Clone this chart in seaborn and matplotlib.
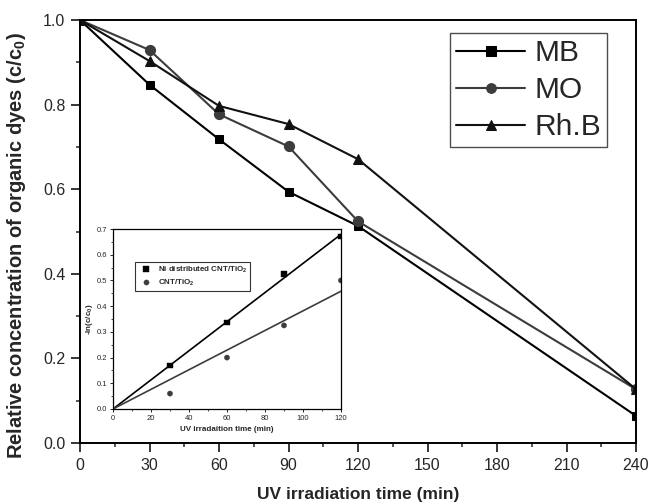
import numpy as np
import pandas as pd
import matplotlib.pyplot as plt
import seaborn as sns

# main chart data
time = [0, 30, 60, 90, 120, 240]
mb = [1.0, 0.847, 0.718, 0.594, 0.513, 0.064]
mo = [1.0, 0.929, 0.777, 0.701, 0.524, 0.127]
rhb = [1.0, 0.903, 0.797, 0.754, 0.671, 0.127]

# inset data
inset_time = [30, 60, 90, 120]
ni_cnt = [0.17, 0.335, 0.525, 0.67]
cnt = [0.06, 0.2, 0.325, 0.5]

sns.set_style("ticks")
plt.rcParams['font.family'] = ['Liberation Sans', 'DejaVu Sans']
plt.rcParams['mathtext.fontset'] = 'custom'
plt.rcParams['mathtext.rm'] = 'Liberation Sans'
plt.rcParams['mathtext.bf'] = 'Liberation Sans:bold'

df = pd.DataFrame({'time': time * 3,
                   'value': mb + mo + rhb,
                   'dye': ['MB'] * 6 + ['MO'] * 6 + ['Rh.B'] * 6})

fig = plt.figure(figsize=(6.5, 5.04), dpi=100)
ax = fig.add_axes([0.1231, 0.121, 0.8554, 0.8393])

sns.lineplot(data=df, x='time', y='value', hue='dye', style='dye',
             palette={'MB': '#000000', 'MO': '#3c3c3c', 'Rh.B': '#111111'},
             markers={'MB': 's', 'MO': 'o', 'Rh.B': '^'},
             dashes=False, markersize=7, linewidth=1.5, ax=ax)
sizes = {'s': 6.3, 'o': 7.3, '^': 7.8}
for line in ax.lines:
    line.set_markeredgecolor(line.get_color())
    m = line.get_marker()
    if m in sizes:
        line.set_markersize(sizes[m])

ax.set_xlim(0, 240)
ax.set_ylim(0, 1.0)
ax.set_xticks(np.arange(0, 241, 30))
ax.set_xticks(np.arange(0, 241, 15), minor=True)
ax.set_yticks(np.arange(0, 1.01, 0.2))
ax.set_yticks(np.arange(0, 1.01, 0.1), minor=True)
ax.yaxis.set_major_formatter(plt.FormatStrFormatter('%.1f'))
ax.tick_params(which='major', direction='out', length=6.5, width=1.3, labelsize=11.5, pad=4)
ax.tick_params(which='minor', direction='out', length=3.2, width=1.1)
for s in ax.spines.values():
    s.set_visible(True)
    s.set_linewidth(1.4)
    s.set_color('black')

ax.set_xlabel('UV irradiation time (min)', fontsize=12.5, fontweight='bold')
ax.xaxis.set_label_coords(0.501, -0.1035)
ax.set_ylabel(r'Relative concentration of organic dyes (c/c$_\mathbf{0}$)',
              fontsize=14.5, fontweight='bold')
ax.yaxis.set_label_coords(-0.093, 0.466)

leg = ax.legend(loc='upper right', bbox_to_anchor=(0.948, 0.969), fontsize=21.5,
                frameon=True, fancybox=False, handlelength=2.33, handletextpad=0.3,
                borderpad=0.2, labelspacing=0.3, borderaxespad=0)
leg.get_frame().set_edgecolor('#222222')
leg.get_frame().set_linewidth(1.0)
for h in leg.get_lines():
    h.set_markersize(7)

# inset
ins = fig.add_axes([0.1738, 0.1885, 0.3508, 0.3571])
idf = pd.DataFrame({'time': inset_time * 2,
                    'value': ni_cnt + cnt,
                    'sample': ['Ni distributed CNT/TiO$_\\mathbf{2}$'] * 4
                              + ['CNT/TiO$_\\mathbf{2}$'] * 4})
sns.scatterplot(data=idf, x='time', y='value', hue='sample', style='sample',
                palette=['#000000', '#3c3c3c'], markers=['s', 'o'], s=14,
                edgecolor=None, ax=ins)

# linear fits through origin
xt = np.array(inset_time, dtype=float)
fit_x = np.array([0, 120])
for yv, c in [(ni_cnt, '#000000'), (cnt, '#3c3c3c')]:
    k = np.sum(xt * np.array(yv)) / np.sum(xt ** 2)
    ins.plot(fit_x, k * fit_x, color=c, linewidth=1.2)

ins.set_xlim(0, 120)
ins.set_ylim(0, 0.7)
ins.set_xticks(np.arange(0, 121, 20))
ins.set_xticks(np.arange(0, 121, 10), minor=True)
ins.set_yticks(np.arange(0, 0.71, 0.1))
ins.set_yticks(np.arange(0, 0.71, 0.05), minor=True)
ins.yaxis.set_major_formatter(plt.FormatStrFormatter('%.1f'))
ins.tick_params(which='major', direction='out', length=2.5, width=0.7, labelsize=5.5, pad=1.5)
ins.tick_params(which='minor', direction='out', length=1.5, width=0.6)
for s in ins.spines.values():
    s.set_visible(True)
    s.set_linewidth(0.9)
    s.set_color('black')
ins.set_xlabel('UV irradaition time (min)', fontsize=5.8, fontweight='bold', labelpad=3)
ins.set_ylabel(r'-ln(c/c$_\mathbf{0}$)', fontsize=5.8, fontweight='bold', labelpad=1.5)

ileg = ins.legend(loc='upper left', bbox_to_anchor=(0.0965, 0.818), fontsize=5.7,
                  frameon=True, fancybox=False, handlelength=2.0, handletextpad=0.5,
                  borderpad=0.35, labelspacing=0.35, borderaxespad=0)
ileg.get_frame().set_edgecolor('black')
ileg.get_frame().set_linewidth(0.8)
for t in ileg.get_texts():
    t.set_fontweight('bold')

fig.savefig('out.png', dpi=100)
